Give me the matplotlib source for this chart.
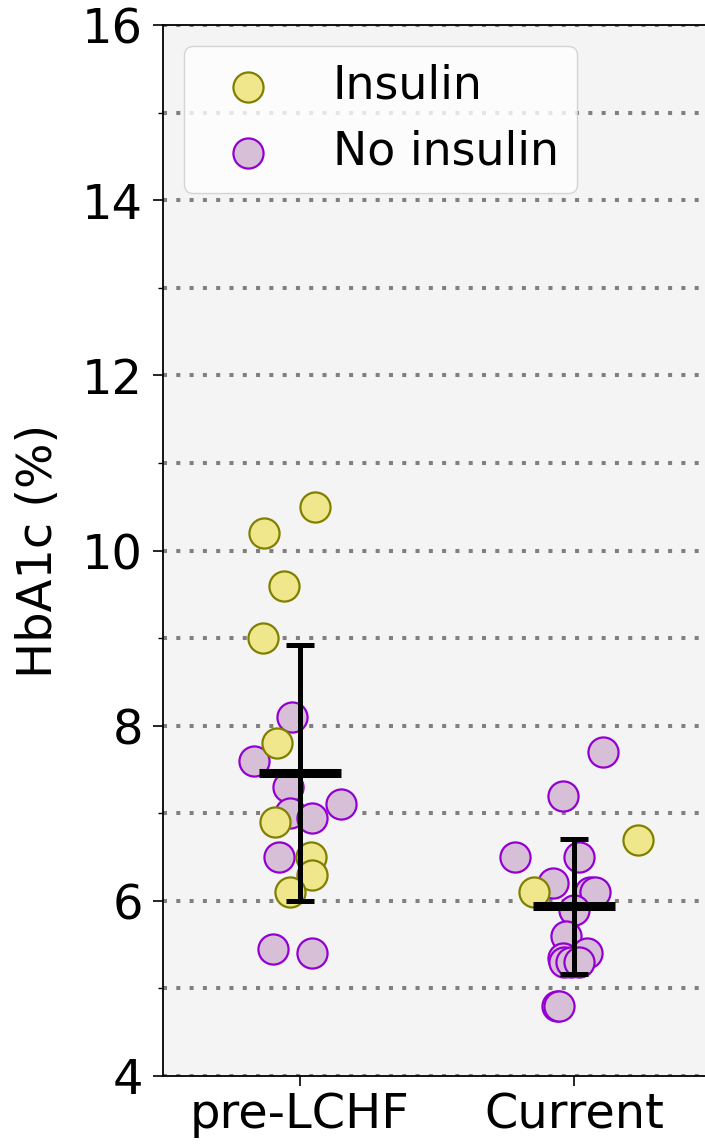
import numpy as np
import matplotlib
matplotlib.use('Agg')
import matplotlib.pyplot as plt
from matplotlib import ticker

groups = ['pre-LCHF', 'Current']
legend_labels = ['Insulin', 'No insulin']

# HbA1c values (%), with horizontal jitter offsets
pre_ins = [10.5, 10.2, 9.6, 9.0, 7.8, 6.9, 6.5, 6.3, 6.1]
pre_ins_jit = [0.055, -0.13, -0.057, -0.136, -0.083, -0.09, 0.039, 0.045, -0.036]
pre_no = [8.1, 7.6, 7.3, 7.0, 6.95, 7.1, 6.5, 5.45, 5.4]
pre_no_jit = [-0.029, -0.169, -0.044, -0.035, 0.043, 0.15, -0.078, -0.097, 0.043]

cur_ins = [6.7, 6.1]
cur_ins_jit = [0.232, -0.146]
cur_no = [7.7, 7.2, 6.5, 6.5, 6.2, 6.1, 6.1, 5.9, 5.6, 5.4, 5.35, 5.3, 5.3, 5.3, 4.8, 4.8]
cur_no_jit = [0.105, -0.041, -0.214, 0.019, -0.078, 0.058, 0.077, 0.0, -0.029, 0.046,
              -0.041, -0.038, -0.01, 0.02, -0.063, -0.055]

FS = 34.5
ins_face, ins_edge = '#f0e68c', '#808000'
no_face, no_edge = '#d8bfd8', '#9400d3'

fig = plt.figure(figsize=(7.05, 11.44), dpi=100)
ax = fig.add_axes([163 / 705, 1 - 1076 / 1144, (711 - 163) / 705, (1076 - 25) / 1144])
ax.set_facecolor('#f4f4f4')

marker_s = 470
for i, (ins, ins_j, no, no_j) in enumerate([(pre_ins, pre_ins_jit, pre_no, pre_no_jit),
                                             (cur_ins, cur_ins_jit, cur_no, cur_no_jit)]):
    ax.scatter(i + np.array(no_j), no, s=marker_s, c=no_face, edgecolors=no_edge,
               linewidths=1.6, zorder=3, label=legend_labels[1] if i == 0 else None)
    ax.scatter(i + np.array(ins_j), ins, s=marker_s, c=ins_face, edgecolors=ins_edge,
               linewidths=1.6, zorder=4, label=legend_labels[0] if i == 0 else None)

    vals = np.array(ins + no)
    m, sd = vals.mean(), vals.std()
    ax.errorbar(i, m, yerr=sd, color='black', lw=3.6, capsize=10, capthick=3.6, zorder=6)
    ax.hlines(m, i - 0.148, i + 0.148, color='black', lw=6.5, zorder=6)

ax.set_xlim(-0.5, 1.5)
ax.set_ylim(4, 16)
ax.set_xticks([0, 1])
ax.set_xticklabels(groups, fontsize=FS)
ax.yaxis.set_major_locator(ticker.MultipleLocator(2))
ax.yaxis.set_minor_locator(ticker.MultipleLocator(1))
ax.tick_params(axis='y', which='major', labelsize=FS, length=7.5, width=1.2, pad=7)
ax.tick_params(axis='y', which='minor', length=3.5, width=1.0)
ax.tick_params(axis='x', labelsize=FS, length=7.5, width=1.2)
ax.set_ylabel('HbA1c (%)', fontsize=FS, labelpad=14)

ax.grid(True, axis='y', which='both', color='gray', lw=2.9, linestyle=(0, (1, 2.3)), zorder=1)
ax.set_axisbelow(True)
for sp in ax.spines.values():
    sp.set_linewidth(1.3)

handles, labels = ax.get_legend_handles_labels()
order = [labels.index(l) for l in legend_labels]
ax.legend([handles[k] for k in order], [labels[k] for k in order], loc='upper left',
          fontsize=33, handletextpad=0.85, borderaxespad=0.45, labelspacing=0.45)

fig.savefig('out.png', dpi=100)
